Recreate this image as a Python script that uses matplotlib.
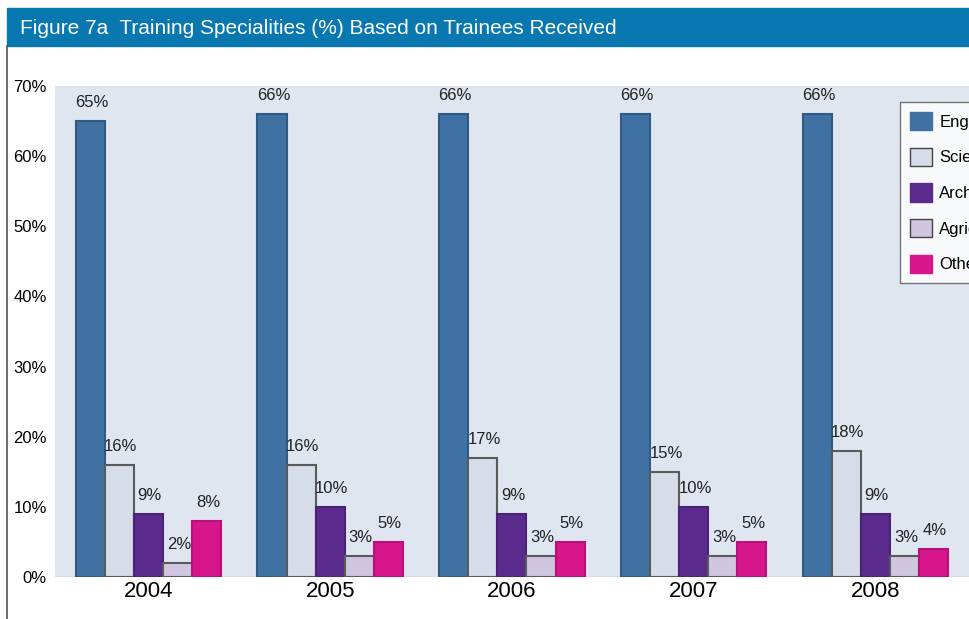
import matplotlib.pyplot as plt
from matplotlib.patches import Rectangle, Patch
from matplotlib.lines import Line2D

plt.rcParams['font.family'] = ['Liberation Sans', 'DejaVu Sans']

years = ["2004", "2005", "2006", "2007", "2008"]
series = ["Engineering", "Sciences", "Architecture", "Agriculture", "Others"]
engineering = [65, 66, 66, 66, 66]
sciences = [16, 16, 17, 15, 18]
architecture = [9, 10, 9, 10, 9]
agriculture = [2, 3, 3, 3, 3]
others = [8, 5, 5, 5, 4]

colors = ["#3f72a2", "#d6dce8", "#5a2b8d", "#d0c6e0", "#d6168a"]
edges = ["#2f5a85", "#5a5a5a", "#4a2378", "#5a5a5a", "#b8127a"]

fig = plt.figure(figsize=(9.7, 6.19), dpi=100)
W, H = 970, 619

# title bar
fig.patches.append(Rectangle((7 / W, 1 - 46 / H), 1 - 7 / W, 38 / H,
                             transform=fig.transFigure, color="#0a78b0", zorder=0))
fig.text(20 / W, 1 - 29 / H, "Figure 7a  Training Specialities (%) Based on Trainees Received",
         color="white", fontsize=15, va="center", ha="left")
fig.lines.append(Line2D([7 / W, 7 / W], [0, 1 - 46 / H], transform=fig.transFigure,
                        color="#555555", lw=1.2))

ax = fig.add_axes([55 / W, 1 - 577 / H, 1 - 55 / W, (577 - 86) / H])
ax.set_facecolor("#dfe6f0")

width = 0.16
x = list(range(len(years)))
data = [engineering, sciences, architecture, agriculture, others]
for i, vals in enumerate(data):
    off = (i - 2) * width
    xs = [xi + off for xi in x]
    ax.bar(xs, vals, width, color=colors[i], edgecolor=edges[i], linewidth=1.5, zorder=2)
    for xx, v in zip(xs, vals):
        ax.annotate(f"{v}%", (xx, v), xytext=(1, 8), textcoords="offset points",
                    ha="center", va="bottom", fontsize=12, color="#222222")

ax.set_xlim(-0.514, 4.52)
ax.set_ylim(0, 70)
ax.set_yticks(range(0, 71, 10))
ax.set_yticklabels([f"{t}%" for t in range(0, 71, 10)], fontsize=12)
ax.set_xticks(x)
ax.set_xticklabels(years, fontsize=16)
ax.tick_params(length=0, pad=6)
ax.tick_params(axis="x", pad=3)
for s in ax.spines.values():
    s.set_visible(False)
ax.axhline(0, color="#bbbbbb", lw=1, zorder=1)

# legend is cut by the right edge, as in the source figure
handles = [Patch(facecolor=colors[i], edgecolor=("#444444" if i in (1, 3) else colors[i]))
           for i in range(5)]
leg = fig.legend(handles, series, loc="upper left", bbox_to_anchor=(900 / W, 1 - 102 / H),
                 fontsize=12, frameon=True, fancybox=False, edgecolor="#555555",
                 handlelength=1.3, handleheight=1.3, labelspacing=1.05, borderpad=0.6,
                 handletextpad=0.45, borderaxespad=0)
leg.get_frame().set_facecolor("white")
leg.get_frame().set_linewidth(1)

fig.savefig("out.png", dpi=100)
